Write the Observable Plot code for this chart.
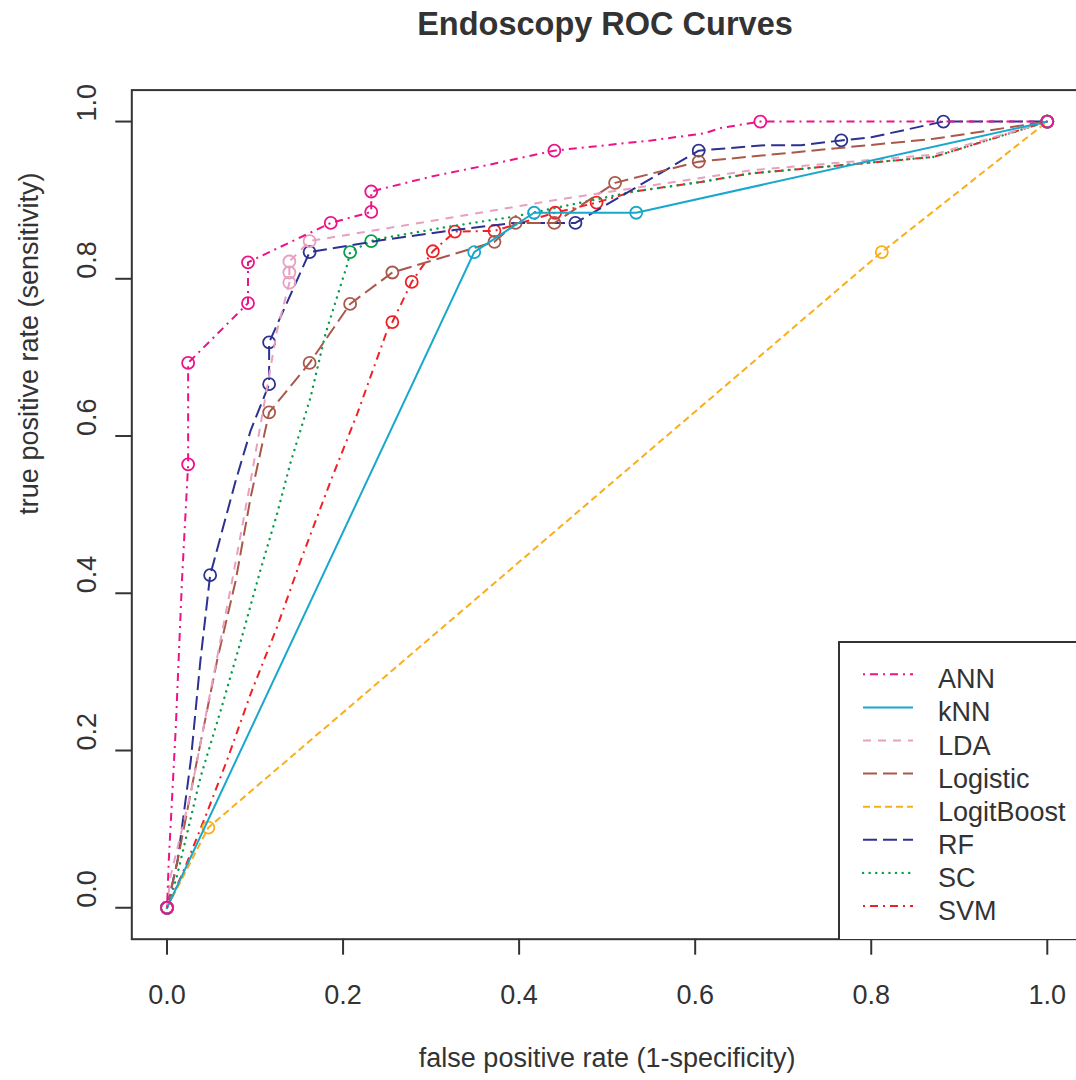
<!DOCTYPE html>
<html>
<head>
<meta charset="utf-8">
<script src="https://cdn.jsdelivr.net/npm/d3@7"></script>
<script src="https://cdn.jsdelivr.net/npm/@observablehq/plot@0.6"></script>
<style>
  html, body { margin: 0; padding: 0; background: #fff; overflow: hidden; width: 1076px; height: 1080px; }
  #wrap { position: relative; width: 1076px; height: 1080px; overflow: hidden; }
  #title { position: absolute; left: 0; width: 1210px; top: 6px; text-align: center;
           font: bold 32.5px "Liberation Sans", Arial, sans-serif; color: #333; }
  #chart { position: absolute; left: 0; top: 0; width: 1082px; height: 1080px; }
  #chart svg { max-width: none !important; }
  #legend { position: absolute; left: 838px; top: 641px; width: 260px; height: 298px; }
</style>
</head>
<body>
<div id="wrap">
  <div id="chart"></div>
  <div id="title">Endoscopy ROC Curves</div>
  <div id="legend"></div>
</div>
<script>
// ---- data: [false positive rate, true positive rate, circle marker?] ----
const ANN = [[0,0,1],[0.002,0.06,0],[0.010,0.23,0],[0.017,0.416,0],[0.020,0.48,0],[0.024,0.564,1],[0.024,0.693,1],
  [0.092,0.769,1],[0.092,0.821,1],[0.186,0.871,1],[0.232,0.885,1],[0.232,0.911,1],[0.30,0.930,0],[0.37,0.946,0],
  [0.44,0.963,1],[0.55,0.976,0],[0.61,0.985,0],[0.63,0.992,0],[0.674,1,1],[1,1,1]];
const KNN = [[0,0,1],[0.349,0.834,1],[0.417,0.884,1],[0.533,0.884,1],[1,1,1]];
const LDA = [[0,0,1],[0.004,0.04,0],[0.027,0.146,0],[0.049,0.273,0],[0.074,0.416,0],[0.095,0.543,0],[0.125,0.734,0],
  [0.139,0.795,1],[0.139,0.808,1],[0.139,0.822,1],[0.162,0.848,1],[0.265,0.867,0],[0.44,0.900,0],[0.663,0.938,0],
  [0.871,0.958,0],[1,1,1]];
const LOGISTIC = [[0,0,1],[0.012,0.06,0],[0.034,0.187,0],[0.057,0.315,0],[0.078,0.416,0],[0.095,0.522,0],[0.116,0.630,1],
  [0.162,0.693,1],[0.208,0.768,1],[0.256,0.808,1],[0.372,0.847,1],[0.396,0.871,1],[0.440,0.871,1],[0.509,0.922,1],
  [0.604,0.949,1],[0.871,0.978,0],[1,1,1]];
const LOGITBOOST = [[0,0,1],[0.047,0.102,1],[0.812,0.834,1],[1,1,1]];
const RF = [[0,0,1],[0.012,0.06,0],[0.027,0.187,0],[0.038,0.315,0],[0.049,0.423,1],[0.078,0.543,0],[0.095,0.607,0],
  [0.116,0.666,1],[0.116,0.719,1],[0.162,0.834,1],[0.243,0.849,0],[0.326,0.862,0],[0.394,0.871,0],[0.464,0.871,1],
  [0.604,0.963,1],[0.68,0.970,0],[0.72,0.970,0],[0.766,0.976,1],[0.80,0.980,0],[0.882,1,1],[1,1,1]];
const SC = [[0,0,1],[0.011,0.039,0],[0.038,0.166,0],[0.061,0.251,0],[0.083,0.336,0],[0.106,0.429,0],[0.125,0.501,0],
  [0.140,0.565,0],[0.163,0.649,0],[0.180,0.730,0],[0.205,0.819,0],[0.208,0.834,1],[0.232,0.848,1],[0.242,0.851,0],
  [0.318,0.866,0],[0.394,0.879,0],[0.53,0.911,0],[0.606,0.923,0],[0.663,0.934,0],[0.871,0.955,0],[1,1,1]];
const SVM = [[0,0,1],[0.020,0.05,0],[0.045,0.12,0],[0.068,0.187,0],[0.095,0.272,0],[0.125,0.357,0],[0.152,0.442,0],[0.186,0.543,0],
  [0.216,0.628,0],[0.250,0.734,0],[0.256,0.745,1],[0.278,0.796,1],[0.302,0.835,1],[0.327,0.860,1],[0.372,0.861,1],
  [0.441,0.884,1],[0.488,0.897,1],[0.53,0.911,0],[0.606,0.923,0],[0.663,0.934,0],[0.871,0.955,0],[1,1,1]];

const seriesNames = ["ANN","kNN","LDA","Logistic","LogitBoost","RF","SC","SVM"];
const seriesData  = [ANN, KNN, LDA, LOGISTIC, LOGITBOOST, RF, SC, SVM];
const xTicks = [0, 0.2, 0.4, 0.6, 0.8, 1.0];
const yTicks = [0, 0.2, 0.4, 0.6, 0.8, 1.0];
const titleText = "Endoscopy ROC Curves";
const xLabel = "false positive rate (1-specificity)";
const yLabel = "true positive rate (sensitivity)";

// ---- styles ----
const colors = ["#EE1289","#19A8CB","#E8A0C0","#A9584A","#F9AE1B","#2D3190","#0A9D4B","#EE2226"];
const dashes = ["2,5,8,5", null, "8,7", "14,6", "7,4", "14,6", "0.1,6.5", "2,5,8,5"];
const caps   = ["butt","butt","butt","butt","butt","butt","round","butt"];

const fmt = d3.format(".1f");
const font = "'Liberation Sans', Arial, sans-serif";
const ink = "#333";

const drawOrder = [7,6,5,4,3,2,1,0];
const curveMarks = [];
for (const i of drawOrder) {
  const data = seriesData[i];
  curveMarks.push(Plot.line(data, {x: d => d[0], y: d => d[1], stroke: colors[i], strokeWidth: i === 6 ? 2.4 : 2,
    strokeDasharray: dashes[i] || undefined, strokeLinecap: caps[i], strokeLinejoin: "round"}));
  curveMarks.push(Plot.dot(data.filter(d => d[2]), {x: d => d[0], y: d => d[1], r: 6,
    stroke: colors[i], strokeWidth: 1.8, fill: "none"}));
}

const chart = Plot.plot({
  width: 1082, height: 1080,
  marginLeft: 131.3, marginRight: 0, marginTop: 89.6, marginBottom: 141.3,
  x: {domain: [-0.04, 1.04], axis: null},
  y: {domain: [-0.04, 1.04], axis: null},
  style: {fontFamily: font, color: ink, background: "white", overflow: "visible", maxWidth: "none"},
  marks: [
    ...curveMarks,
    Plot.frame({stroke: ink, strokeWidth: 2}),
    Plot.axisX(xTicks, {tickSize: 16, tickFormat: () => "", stroke: ink, strokeWidth: 2, label: null}),
    Plot.axisY(yTicks, {tickSize: 16, tickFormat: () => "", stroke: ink, strokeWidth: 2, label: null}),
    Plot.text(xTicks, {x: d => d, frameAnchor: "bottom", dy: 56, lineAnchor: "middle",
      text: d => fmt(d), fontSize: 27, fill: ink}),
    Plot.text(yTicks, {y: d => d, frameAnchor: "left", dx: -44, rotate: -90, lineAnchor: "middle",
      text: d => fmt(d), fontSize: 27, fill: ink}),
    Plot.text([xLabel], {frameAnchor: "bottom", dy: 119, lineAnchor: "middle", text: d => d, fontSize: 27, fill: ink}),
    Plot.text([yLabel], {frameAnchor: "left", dx: -102, rotate: -90, lineAnchor: "middle", text: d => d, fontSize: 27, fill: ink})
  ]
});
document.getElementById("chart").appendChild(chart);
document.getElementById("title").textContent = titleText;

// ---- legend ----
const ns = "http://www.w3.org/2000/svg";
const lg = document.createElementNS(ns, "svg");
lg.setAttribute("width", 260); lg.setAttribute("height", 298);
const box = document.createElementNS(ns, "rect");
box.setAttribute("x", 1); box.setAttribute("y", 1); box.setAttribute("width", 300); box.setAttribute("height", 300);
box.setAttribute("fill", "white"); box.setAttribute("stroke", ink); box.setAttribute("stroke-width", 2);
lg.appendChild(box);
seriesNames.forEach((name, i) => {
  const cy = 33.3 + 33.1 * i;
  const ln = document.createElementNS(ns, "line");
  ln.setAttribute("x1", 25); ln.setAttribute("x2", 75); ln.setAttribute("y1", cy); ln.setAttribute("y2", cy);
  ln.setAttribute("stroke", colors[i]); ln.setAttribute("stroke-width", i === 6 ? 2.4 : 2);
  ln.setAttribute("stroke-linecap", caps[i]);
  if (dashes[i]) ln.setAttribute("stroke-dasharray", dashes[i]);
  lg.appendChild(ln);
  const tx = document.createElementNS(ns, "text");
  tx.setAttribute("x", 100); tx.setAttribute("y", cy + 14);
  tx.setAttribute("font-family", font); tx.setAttribute("font-size", 27); tx.setAttribute("fill", ink);
  tx.textContent = name;
  lg.appendChild(tx);
});
document.getElementById("legend").appendChild(lg);
</script>
</body>
</html>
